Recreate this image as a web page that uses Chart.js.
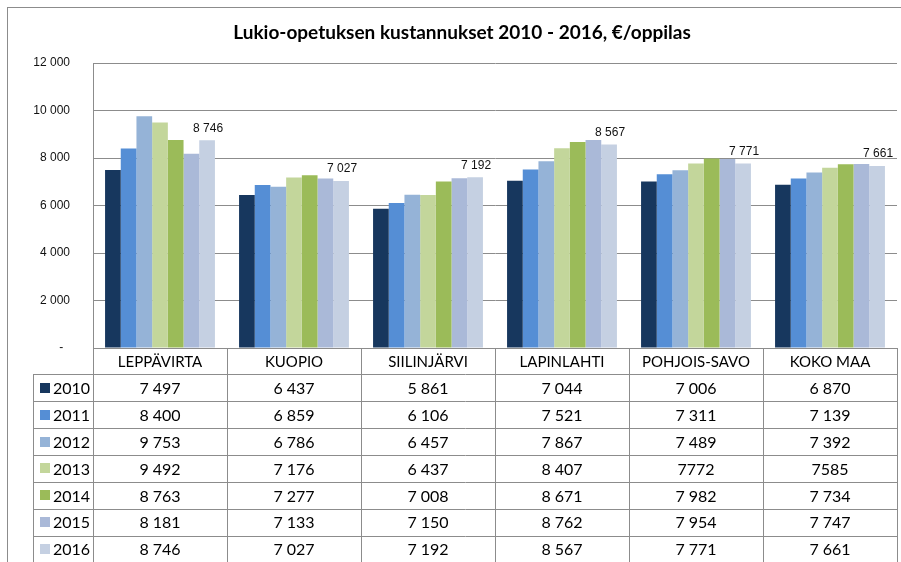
<!DOCTYPE html>
<html>
<head>
<meta charset="utf-8">
<title>Lukio-opetuksen kustannukset</title>
<script src="https://cdn.jsdelivr.net/npm/chart.js@4.4.1/dist/chart.umd.min.js"></script>
<style>
  body { margin: 0; background: #fff; }
  #wrap { position: relative; width: 901px; height: 562px; overflow: hidden; }
  #frame {
    position: absolute; left: 7px; top: 7px; right: -2px; bottom: -2px;
    border-top: 1px solid #8c8c8c; border-left: 1px solid #8c8c8c;
    pointer-events: none;
  }
</style>
</head>
<body>
<div id="wrap">
  <canvas id="kustannukset" width="901" height="562"></canvas>
  <div id="frame"></div>
</div>
<script>
const kunnat = ['LEPPÄVIRTA', 'KUOPIO', 'SIILINJÄRVI', 'LAPINLAHTI', 'POHJOIS-SAVO', 'KOKO MAA'];
const vuodet = ['2010', '2011', '2012', '2013', '2014', '2015', '2016'];

const v2010 = [7497, 6437, 5861, 7044, 7006, 6870];
const v2011 = [8400, 6859, 6106, 7521, 7311, 7139];
const v2012 = [9753, 6786, 6457, 7867, 7489, 7392];
const v2013 = [9492, 7176, 6437, 8407, 7772, 7585];
const v2014 = [8763, 7277, 7008, 8671, 7982, 7734];
const v2015 = [8181, 7133, 7150, 8762, 7954, 7747];
const v2016 = [8746, 7027, 7192, 8567, 7771, 7661];

const yTicks = [0, 2000, 4000, 6000, 8000, 10000, 12000];

// source table prints these two cells without the thousands space
const ilmanValia = ['3-4', '3-5'];

const varit = ['#17375e', '#558ed5', '#95b3d7', '#c3d69b', '#9bbb59', '#aab9d8', '#c5d0e2'];
const sarjat = [v2010, v2011, v2012, v2013, v2014, v2015, v2016];

const otsikko = 'Lukio-opetuksen kustannukset 2010 - 2016, €/oppilas';
const viiva = '#8c8c8c';
const taulukkoFontti = 'Lato';

function muotoile(n) {
  return String(n).replace(/\B(?=(\d{3})+(?!\d))/g, ' ');
}

// title sits a bit right of the canvas centre in the original
const otsikkoPlugin = {
  id: 'otsikkoPlugin',
  beforeDraw(chart) {
    const ctx = chart.ctx;
    ctx.save();
    ctx.font = 'bold 19px Lato';
    ctx.fillStyle = '#000';
    ctx.textAlign = 'center';
    ctx.textBaseline = 'middle';
    ctx.fillText(otsikko, 462, 33);
    ctx.restore();
  }
};

// data labels only for the last year
const arvoTekstit = {
  id: 'arvoTekstit',
  afterDatasetsDraw(chart) {
    const ctx = chart.ctx;
    const i = sarjat.length - 1;
    const meta = chart.getDatasetMeta(i);
    ctx.save();
    ctx.font = '12px "Liberation Sans", Arial, sans-serif';
    ctx.fillStyle = '#111';
    ctx.textAlign = 'center';
    ctx.textBaseline = 'bottom';
    meta.data.forEach((bar, j) => {
      ctx.fillText(muotoile(sarjat[i][j]), bar.x + 1, bar.y - 6);
    });
    ctx.restore();
  }
};

// data table under the plot, columns follow the x scale
const dataTaulukko = {
  id: 'dataTaulukko',
  afterDraw(chart) {
    const ctx = chart.ctx;
    const area = chart.chartArea;
    const x = chart.scales.x;
    const w = (area.right - area.left) / kunnat.length;
    const top = area.bottom;
    const headH = 26.3;
    const rowH = 26.9;
    const legLeft = 33;
    const bottom = chart.height + 2;
    const px = v => Math.round(v) + 0.5;

    ctx.save();
    ctx.strokeStyle = viiva;
    ctx.lineWidth = 1;
    ctx.beginPath();
    for (let k = 0; k <= kunnat.length; k++) {
      const xx = px(area.left + k * w);
      ctx.moveTo(xx, top);
      ctx.lineTo(xx, bottom);
    }
    ctx.moveTo(px(legLeft), top + headH);
    ctx.lineTo(px(legLeft), bottom);
    for (let r = 0; r <= vuodet.length; r++) {
      const yy = px(top + headH + r * rowH);
      ctx.moveTo(legLeft, yy);
      ctx.lineTo(area.right + 1, yy);
    }
    ctx.stroke();

    ctx.fillStyle = '#000';
    ctx.textBaseline = 'middle';
    ctx.textAlign = 'center';
    ctx.font = '15px ' + taulukkoFontti;
    kunnat.forEach((k, j) => {
      ctx.fillText(k, x.getPixelForValue(j), top + headH / 2 + 1);
    });

    ctx.font = '16px ' + taulukkoFontti;
    vuodet.forEach((v, r) => {
      const cy = top + headH + r * rowH + rowH / 2 + 1;
      ctx.textAlign = 'center';
      sarjat[r].forEach((val, j) => {
        const txt = ilmanValia.includes(r + '-' + j) ? String(val) : muotoile(val);
        ctx.fillText(txt, x.getPixelForValue(j), cy);
      });
      ctx.fillStyle = varit[r];
      ctx.fillRect(40, Math.round(cy - 6), 10, 10);
      ctx.fillStyle = '#000';
      ctx.textAlign = 'left';
      ctx.fillText(v, 53, cy);
    });
    ctx.restore();
  }
};

const data = {
  labels: kunnat,
  datasets: vuodet.map((v, i) => ({
    label: v,
    data: sarjat[i],
    backgroundColor: varit[i],
    borderWidth: 0,
    categoryPercentage: 0.82,
    barPercentage: 1
  }))
};

const config = {
  type: 'bar',
  data: data,
  options: {
    responsive: false,
    animation: false,
    layout: {
      padding: { left: 0, right: 4, top: 63, bottom: 214 }
    },
    plugins: {
      legend: { display: false },
      tooltip: { enabled: false },
      title: { display: false }
    },
    scales: {
      x: {
        display: false
      },
      y: {
        min: 0,
        max: 12000,
        afterBuildTicks: axis => {
          axis.ticks = yTicks.map(v => ({ value: v }));
        },
        afterFit: axis => {
          axis.width = 93;
        },
        border: { display: true, color: viiva },
        grid: { color: viiva, drawTicks: false },
        ticks: {
          padding: 23,
          color: '#111',
          font: { family: '"Liberation Sans", Arial, sans-serif', size: 12 },
          callback: v => v === 0 ? '-  ' : muotoile(v)
        }
      }
    }
  },
  plugins: [otsikkoPlugin, arvoTekstit, dataTaulukko]
};

var kustannusChart = new Chart(
  document.getElementById('kustannukset'),
  config
);
</script>
</body>
</html>
